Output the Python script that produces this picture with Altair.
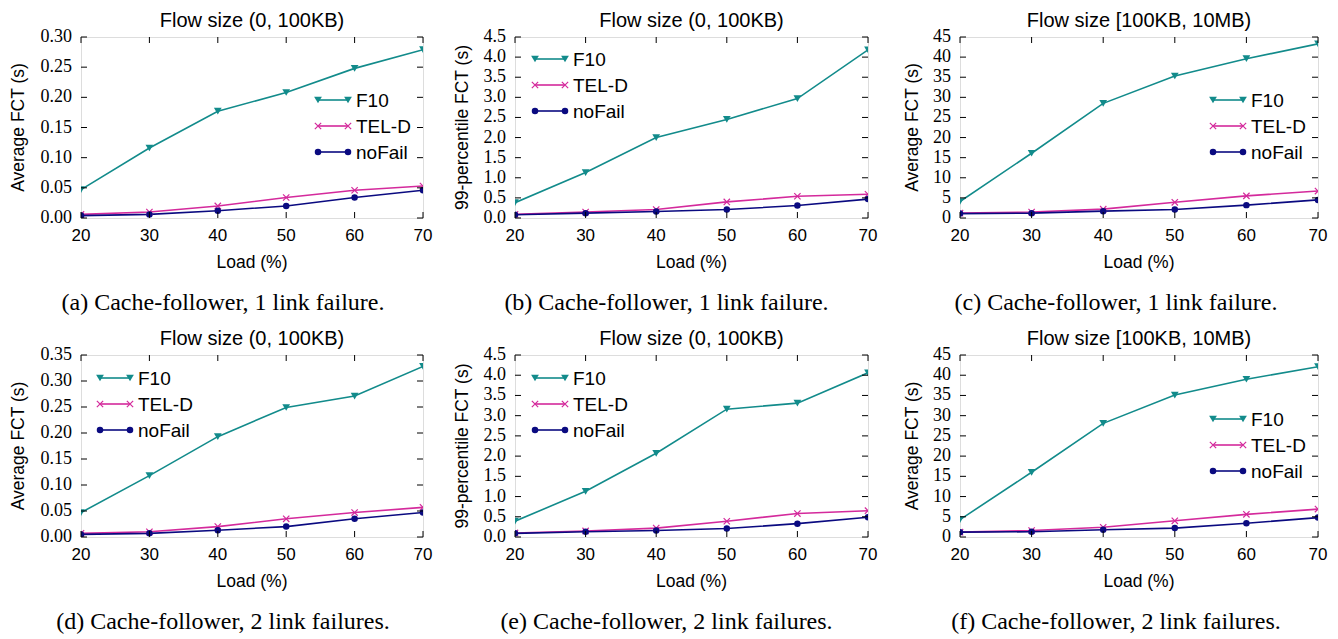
import altair as alt
import pandas as pd

# ---------------- data ----------------
load = [20, 30, 40, 50, 60, 70]
series_names = ["F10", "TEL-D", "noFail"]

a_f10 = [0.047, 0.116, 0.177, 0.208, 0.248, 0.279]
a_teld = [0.006, 0.010, 0.020, 0.034, 0.046, 0.053]
a_nofail = [0.004, 0.006, 0.012, 0.020, 0.034, 0.046]

b_f10 = [0.38, 1.13, 2.00, 2.45, 2.97, 4.18]
b_teld = [0.09, 0.15, 0.21, 0.40, 0.54, 0.59]
b_nofail = [0.08, 0.12, 0.16, 0.21, 0.31, 0.47]

c_f10 = [4.1, 16.1, 28.5, 35.3, 39.6, 43.3]
c_teld = [1.2, 1.5, 2.2, 3.9, 5.5, 6.7]
c_nofail = [1.1, 1.2, 1.7, 2.1, 3.2, 4.5]

d_f10 = [0.047, 0.118, 0.193, 0.249, 0.271, 0.328]
d_teld = [0.007, 0.010, 0.020, 0.035, 0.047, 0.057]
d_nofail = [0.005, 0.007, 0.013, 0.020, 0.035, 0.047]

e_f10 = [0.39, 1.13, 2.07, 3.16, 3.31, 4.06]
e_teld = [0.10, 0.15, 0.22, 0.39, 0.58, 0.65]
e_nofail = [0.09, 0.13, 0.16, 0.21, 0.33, 0.49]

f_f10 = [4.3, 16.0, 28.1, 35.1, 39.0, 42.1]
f_teld = [1.2, 1.6, 2.4, 4.0, 5.6, 6.9]
f_nofail = [1.2, 1.3, 1.8, 2.2, 3.4, 4.8]

panel_titles = ["Flow size (0, 100KB)", "Flow size (0, 100KB)", "Flow size [100KB, 10MB)",
                "Flow size (0, 100KB)", "Flow size (0, 100KB)", "Flow size [100KB, 10MB)"]
y_titles = ["Average FCT (s)", "99-percentile FCT (s)", "Average FCT (s)",
            "Average FCT (s)", "99-percentile FCT (s)", "Average FCT (s)"]
captions = ["(a) Cache-follower, 1 link failure.",
            "(b) Cache-follower, 1 link failure.",
            "(c) Cache-follower, 1 link failure.",
            "(d) Cache-follower, 2 link failures.",
            "(e) Cache-follower, 2 link failures.",
            "(f) Cache-follower, 2 link failures."]
x_title = "Load (%)"

# ---------------- style ----------------
COLORS = ["#128b8b", "#d42a9c", "#0a0a80"]
SANS = "Liberation Sans"
SERIF = "Liberation Serif"
XPATH = "M-1,-1L1,1M-1,1L1,-1"


def panel(f10, teld, nofail, title, ytitle, ymax, ystep, yfmt, caption,
          W, H, leg_x, leg_y, cap_dx, ytitle_dx):
    df = pd.DataFrame({
        "load": load * 3,
        "value": f10 + teld + nofail,
        "series": [s for s in series_names for _ in load],
    })
    n = int(round(ymax / ystep))
    yticks = [round(i * ystep, 6) for i in range(n + 1)]

    xenc = alt.X("load:Q",
                 scale=alt.Scale(domain=[20, 70], nice=False, zero=False),
                 axis=None)
    yenc = alt.Y("value:Q",
                 scale=alt.Scale(domain=[0, ymax], nice=False),
                 axis=None)
    cenc = alt.Color("series:N",
                     scale=alt.Scale(domain=series_names, range=COLORS),
                     legend=None)

    base = alt.Chart(df)
    lines = base.mark_line(clip=True, strokeWidth=1.6).encode(
        x=xenc, y=yenc, color=cenc, detail="series:N")
    tri = base.transform_filter(alt.datum.series == "F10").mark_point(
        shape="triangle-down", filled=True, size=60, opacity=1, clip=True,
        color=COLORS[0]).encode(x=xenc, y=yenc)
    crs = base.transform_filter(alt.datum.series == "TEL-D").mark_point(
        shape=XPATH, filled=False, size=40, opacity=1, strokeWidth=1.2,
        clip=True, color=COLORS[1]).encode(x=xenc, y=yenc)
    dot = base.transform_filter(alt.datum.series == "noFail").mark_point(
        shape="circle", filled=True, size=42, opacity=1, clip=True,
        color=COLORS[2]).encode(x=xenc, y=yenc)

    # inward ticks on all four sides
    ytdf = pd.DataFrame({"value": yticks})
    xtdf = pd.DataFrame({"load": load})
    tk = dict(color="black", strokeWidth=1)
    t_left = alt.Chart(ytdf).mark_rule(**tk).encode(
        y=yenc, x=alt.value(0), x2=alt.value(6))
    t_right = alt.Chart(ytdf).mark_rule(**tk).encode(
        y=yenc, x=alt.value(W - 6), x2=alt.value(W))
    t_bot = alt.Chart(xtdf).mark_rule(**tk).encode(
        x=xenc, y=alt.value(H - 6), y2=alt.value(H))
    t_top = alt.Chart(xtdf).mark_rule(**tk).encode(
        x=xenc, y=alt.value(0), y2=alt.value(6))

    # tick labels (through the scales)
    ylab = alt.Chart(ytdf).mark_text(
        align="right", baseline="middle", font=SERIF, fontSize=18,
        color="black").encode(
        y=yenc, x=alt.value(-9), text=alt.Text("value:Q", format=yfmt))
    xlab = alt.Chart(xtdf).mark_text(
        align="center", baseline="alphabetic", font=SANS, fontSize=17,
        color="black").encode(
        x=xenc, y=alt.value(H + 23), text=alt.Text("load:Q", format="d"))

    one_x = alt.Chart(pd.DataFrame({"t": [x_title]}))
    xttl = one_x.mark_text(align="center", baseline="alphabetic", font=SANS,
                           fontSize=17.5, color="black").encode(
        x=alt.value(W / 2), y=alt.value(H + 50), text="t:N")
    one_y = alt.Chart(pd.DataFrame({"t": [ytitle]}))
    yttl = one_y.mark_text(align="center", baseline="middle", font=SANS,
                           fontSize=17.5, angle=270, color="black").encode(
        x=alt.value(ytitle_dx), y=alt.value(H / 2), text="t:N")

    layers = [lines, tri, crs, dot, t_left, t_right, t_bot, t_top,
              ylab, xlab, xttl, yttl]

    # legend (gnuplot style: line with a marker at both ends)
    shapes = [("triangle-down", True, 60), (XPATH, False, 40), ("circle", True, 42)]
    for i, name in enumerate(series_names):
        ly = leg_y + i * 26
        one = alt.Chart(pd.DataFrame({"label": [name]}))
        layers.append(one.mark_rule(color=COLORS[i], strokeWidth=1.6).encode(
            x=alt.value(leg_x), x2=alt.value(leg_x + 30), y=alt.value(ly)))
        shp, filled, sz = shapes[i]
        for px in (leg_x, leg_x + 30):
            kw = dict(shape=shp, filled=filled, size=sz, opacity=1,
                      color=COLORS[i])
            if not filled:
                kw["strokeWidth"] = 1.2
            layers.append(one.mark_point(**kw).encode(
                x=alt.value(px), y=alt.value(ly)))
        layers.append(one.mark_text(align="left", baseline="middle",
                                    font=SANS, fontSize=19,
                                    color="black").encode(
            x=alt.value(leg_x + 38), y=alt.value(ly + 1), text="label:N"))

    # panel title
    ttl = alt.Chart(pd.DataFrame({"t": [title]})).mark_text(
        align="center", baseline="alphabetic", font=SANS, fontSize=20,
        color="black").encode(
        x=alt.value(W / 2), y=alt.value(-10), text="t:N")
    layers.append(ttl)

    # sub-figure caption
    cap = alt.Chart(pd.DataFrame({"cap": [caption]})).mark_text(
        align="center", baseline="alphabetic", font=SERIF, fontSize=24,
        color="black").encode(
        x=alt.value(W / 2 + cap_dx), y=alt.value(H + 92), text="cap:N")
    layers.append(cap)

    return alt.layer(*layers).properties(width=W, height=H)


pa = panel(a_f10, a_teld, a_nofail, panel_titles[0], y_titles[0], 0.30, 0.05, ".2f",
           captions[0], 342, 181, 237, 63, -29, -62)
pb = panel(b_f10, b_teld, b_nofail, panel_titles[1], y_titles[1], 4.5, 0.5, ".1f",
           captions[1], 353, 181, 20, 22, -25, -52)
pc = panel(c_f10, c_teld, c_nofail, panel_titles[2], y_titles[2], 45, 5, "d",
           captions[2], 358, 181, 253, 63, -23, -47.5)
pd_ = panel(d_f10, d_teld, d_nofail, panel_titles[3], y_titles[3], 0.35, 0.05, ".2f",
            captions[3], 342, 182, 19, 23, -29, -62)
pe = panel(e_f10, e_teld, e_nofail, panel_titles[4], y_titles[4], 4.5, 0.5, ".1f",
           captions[4], 353, 182, 20, 23, -25, -52)
pf = panel(f_f10, f_teld, f_nofail, panel_titles[5], y_titles[5], 45, 5, "d",
           captions[5], 358, 182, 253, 64, -23, -47.5)

chart = alt.concat(pa, pb, pc, pd_, pe, pf, columns=3,
                   spacing={"row": 137, "column": 92}, bounds="flush").properties(
    padding={"left": 1, "top": 2, "right": 0, "bottom": 0}
).configure_view(stroke="black", strokeWidth=1.2).configure(background="white")

chart.save("out.html", embed_options={"renderer": "svg", "actions": False})
